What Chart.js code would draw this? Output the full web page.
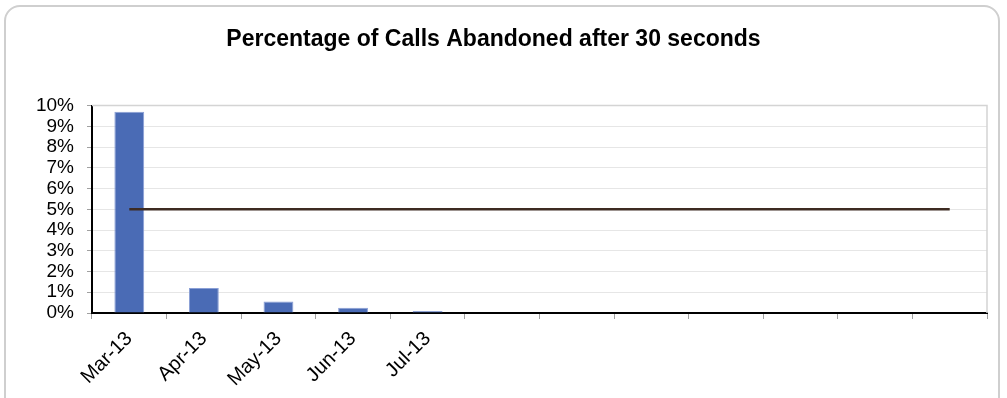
<!DOCTYPE html>
<html>
<head>
<meta charset="utf-8">
<script src="https://cdn.jsdelivr.net/npm/chart.js@4/dist/chart.umd.min.js"></script>
<style>
	body { margin: 0; background: #fff; overflow: hidden; }
	#frame {
		position: absolute; left: 4px; top: 5px; width: 996px; height: 430px;
		border: 2px solid #cfcfcf; border-radius: 16px; box-sizing: border-box;
	}
	#wrap { position: absolute; left: 0; top: 0; width: 1007px; height: 398px; }
</style>
</head>
<body>
<div id="frame"></div>
<div id="wrap"><canvas id="bar-chart"></canvas></div>
<script>
const months = ['Mar-13', 'Apr-13', 'May-13', 'Jun-13', 'Jul-13', '', '', '', '', '', '', '']
const abandoned = [9.7, 1.2, 0.55, 0.25, 0.1, null, null, null, null, null, null, null]
const target = [5, 5, 5, 5, 5, 5, 5, 5, 5, 5, 5, 5]

Chart.defaults.font.family = '"Liberation Sans", Arial, sans-serif'
Chart.defaults.color = '#000'

// light grey frame round the plot area
const plotFrame = {
	id: 'plotFrame',
	beforeDatasetsDraw(chart) {
		const { ctx, chartArea: a } = chart
		ctx.save()
		ctx.strokeStyle = '#d4d4d4'
		ctx.lineWidth = 1.5
		ctx.beginPath()
		ctx.moveTo(a.left, a.top)
		ctx.lineTo(a.right, a.top)
		ctx.lineTo(a.right, a.bottom)
		ctx.stroke()
		ctx.restore()
	}
}

new Chart(document.getElementById('bar-chart'), {
	type: 'bar',
	data: {
		labels: months,
		datasets: [
			{
				type: 'line',
				data: target,
				borderColor: '#3d2b22',
				borderWidth: 2.5,
				pointRadius: 0,
				fill: false
			},
			{
				data: abandoned,
				backgroundColor: '#4a6bb5',
				borderColor: '#8a9fd6',
				borderWidth: 1,
				barPercentage: 0.4,
				categoryPercentage: 1
			}
		]
	},
	options: {
		responsive: true,
		maintainAspectRatio: false,
		animation: false,
		layout: { padding: { left: 0, right: 20, top: 0, bottom: 0 } },
		plugins: {
			legend: { display: false },
			tooltip: { enabled: false },
			title: {
				display: true,
				text: 'Percentage of Calls Abandoned after 30 seconds',
				color: '#000',
				font: { size: 23, weight: 'bold' },
				padding: { top: 26, bottom: 52 }
			}
		},
		scales: {
			x: {
				afterFit: (s) => { s.height = 85 },
				grid: {
					offset: true,
					drawOnChartArea: false,
					tickColor: '#a0a0a0',
					tickLength: 6
				},
				border: { color: '#000', width: 2 },
				ticks: {
					autoSkip: false,
					maxRotation: 45,
					minRotation: 45,
					font: { size: 20 },
					padding: 8
				}
			},
			y: {
				min: 0,
				max: 10,
				afterFit: (s) => { s.width = 92 },
				grid: { color: '#e6e6e6', tickColor: '#a0a0a0', tickLength: 5 },
				border: { color: '#000', width: 2 },
				ticks: {
					autoSkip: false,
					stepSize: 1,
					font: { size: 19 },
					padding: 13,
					callback: (v) => v + '%'
				}
			}
		}
	},
	plugins: [plotFrame]
})
</script>
</body>
</html>
